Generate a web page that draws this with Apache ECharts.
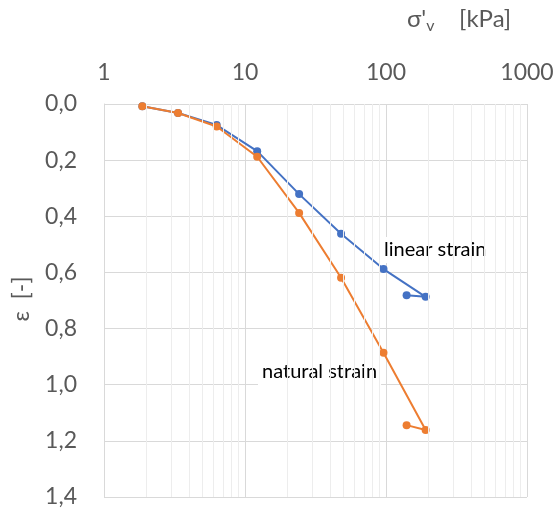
<!DOCTYPE html>
<html>
<head>
<meta charset="utf-8">
<script src="https://cdn.jsdelivr.net/npm/echarts@6/dist/echarts.min.js"></script>
<style>
  html, body { margin: 0; padding: 0; background: #fff; }
  #chart { width: 557px; height: 512px; }
</style>
</head>
<body>
<div id="chart"></div>
<script>
// Effective vertical stress (kPa) at each load step (last step is an unload)
const stress = [1.87, 3.35, 6.3, 12.2, 24.2, 48, 96, 191, 140];
// Strain values for the two definitions
const linearStrain = [0.008, 0.032, 0.075, 0.168, 0.321, 0.462, 0.588, 0.687, 0.681];
const naturalStrain = [0.008, 0.032, 0.080, 0.188, 0.388, 0.619, 0.886, 1.161, 1.144];
// Minor log gridlines between the decades
const minorGrid = [2, 3, 4, 5, 6, 7, 8, 9, 20, 30, 40, 50, 60, 70, 80, 90, 200, 300, 400, 500, 600, 700, 800, 900];

const FONT = 'Lato';
const GREY = '#595959';

const pairs = (ys) => stress.map((x, i) => [x, ys[i]]);

const chart = echarts.init(document.getElementById('chart'), null, { renderer: 'canvas' });

chart.setOption({
  animation: false,
  backgroundColor: '#ffffff',
  textStyle: { fontFamily: FONT },
  grid: { left: 104, right: 30, top: 104, bottom: 15, containLabel: false },
  xAxis: {
    type: 'log',
    logBase: 10,
    position: 'top',
    min: 1,
    max: 1000,
    axisLine: { show: false },
    axisTick: { show: false },
    axisLabel: {
      color: GREY, fontSize: 23, fontFamily: FONT, margin: 20,
      formatter: (v) => String(Math.round(v))
    },
    splitLine: { show: true, lineStyle: { color: '#d9d9d9', width: 1 } },
    minorTick: { show: false },
    minorSplitLine: { show: false }
  },
  yAxis: {
    type: 'value',
    inverse: true,
    min: 0,
    max: 1.4,
    interval: 0.2,
    axisLine: { show: true, lineStyle: { color: '#d9d9d9' } },
    axisTick: { show: false },
    axisLabel: {
      color: GREY, fontSize: 23, fontFamily: FONT, margin: 27,
      formatter: (v) => v.toFixed(1).replace('.', ',')
    },
    splitLine: { show: true, lineStyle: { color: '#d9d9d9', width: 1 } }
  },
  series: [
    {
      name: 'minor grid',
      type: 'line',
      data: [],
      z: 0,
      silent: true,
      markLine: {
        silent: true,
        symbol: 'none',
        label: { show: false },
        lineStyle: { color: '#ededed', type: 'solid', width: 1 },
        data: minorGrid.map(v => ({ xAxis: v }))
      }
    },
    {
      name: 'linear strain',
      type: 'line',
      data: pairs(linearStrain),
      symbol: 'circle',
      symbolSize: 8,
      lineStyle: { color: '#4472C4', width: 2 },
      itemStyle: { color: '#4472C4' },
      z: 3
    },
    {
      name: 'natural strain',
      type: 'line',
      data: pairs(naturalStrain),
      symbol: 'circle',
      symbolSize: 8,
      lineStyle: { color: '#ED7D31', width: 2 },
      itemStyle: { color: '#ED7D31' },
      z: 4
    }
  ],
  graphic: [
    {
      type: 'text',
      left: 407,
      top: 7,
      style: {
        text: "{a|σ'}{b|v}{a|    [kPa]}",
        rich: {
          a: { fontSize: 24, fontFamily: FONT, fill: GREY },
          b: { fontSize: 16, fontFamily: FONT, fill: GREY, padding: [13, 0, 0, 0] }
        }
      }
    },
    {
      type: 'text',
      x: 22,
      y: 299,
      rotation: Math.PI / 2,
      style: {
        text: 'ε  [-]',
        fontSize: 23,
        fontFamily: FONT,
        fill: GREY,
        align: 'center',
        verticalAlign: 'middle'
      }
    },
    {
      type: 'text',
      z: 1,
      left: 380,
      top: 237,
      style: {
        text: 'linear strain', fontSize: 20, fontFamily: FONT, fill: '#000000',
        backgroundColor: '#ffffff', padding: [3, 4, 3, 4]
      }
    },
    {
      type: 'text',
      z: 1,
      left: 258,
      top: 359,
      style: {
        text: 'natural strain', fontSize: 20, fontFamily: FONT, fill: '#000000',
        backgroundColor: '#ffffff', padding: [3, 4, 3, 4]
      }
    }
  ]
});
</script>
</body>
</html>
